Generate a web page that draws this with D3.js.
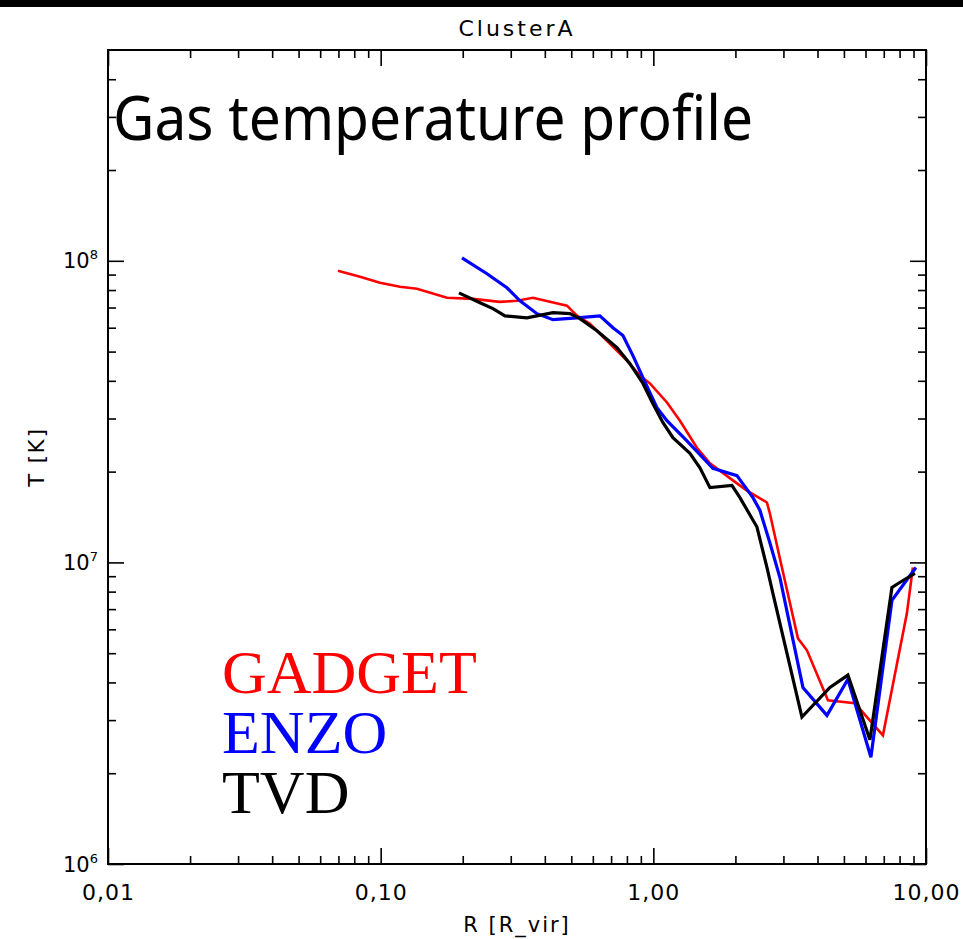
<!DOCTYPE html>
<html>
<head>
<meta charset="utf-8">
<script src="https://cdn.jsdelivr.net/npm/d3@7"></script>
<style>
  html, body { margin: 0; padding: 0; background: #fff; }
  svg { display: block; }
</style>
</head>
<body>
<svg id="chart" width="963" height="939"></svg>
<script>
// Radial gas temperature profile of ClusterA for three codes (R in units of R_vir, T in K)
const gadgetR = [0.0697, 0.084, 0.0994, 0.1177, 0.1358, 0.175, 0.2181, 0.2739, 0.3161, 0.3618, 0.4176, 0.4822, 0.5246, 0.5855, 0.6759, 0.80, 0.893, 0.972, 1.122, 1.252, 1.445, 1.613, 1.958, 2.204, 2.61, 2.677, 2.962, 3.391, 3.659, 4.369, 5.487, 6.95, 8.51, 8.95];
const gadgetT = [9.27e7, 8.85e7, 8.46e7, 8.20e7, 8.08e7, 7.54e7, 7.48e7, 7.31e7, 7.37e7, 7.54e7, 7.31e7, 7.10e7, 6.58e7, 6.18e7, 5.43e7, 4.67e7, 4.16e7, 3.92e7, 3.39e7, 2.95e7, 2.40e7, 2.13e7, 1.87e7, 1.73e7, 1.58e7, 1.45e7, 9.62e6, 5.60e6, 5.11e6, 3.49e6, 3.41e6, 2.67e6, 6.78e6, 9.62e6];

const enzoR = [0.1987, 0.2454, 0.2904, 0.3242, 0.3743, 0.4284, 0.5246, 0.6369, 0.711, 0.7737, 0.8417, 0.916, 1.031, 1.122, 1.328, 1.654, 2.026, 2.319, 2.459, 2.677, 2.912, 3.537, 4.332, 5.171, 6.28, 7.50, 9.18];
const enzoT = [1.023e8, 9.06e7, 8.14e7, 7.37e7, 6.68e7, 6.38e7, 6.47e7, 6.57e7, 6.00e7, 5.65e7, 4.85e7, 4.10e7, 3.26e7, 2.95e7, 2.53e7, 2.05e7, 1.94e7, 1.64e7, 1.49e7, 1.16e7, 8.91e6, 3.85e6, 3.11e6, 4.10e6, 2.26e6, 7.48e6, 9.62e6];

const tvdR = [0.1937, 0.2313, 0.2581, 0.2857, 0.3439, 0.4284, 0.4946, 0.538, 0.621, 0.7356, 0.8208, 0.916, 0.9966, 1.084, 1.18, 1.362, 1.482, 1.613, 1.942, 2.078, 2.399, 2.61, 2.746, 3.507, 4.443, 5.171, 6.228, 7.50, 8.23, 9.11];
const tvdT = [7.83e7, 7.26e7, 6.94e7, 6.57e7, 6.47e7, 6.73e7, 6.68e7, 6.43e7, 5.86e7, 5.15e7, 4.56e7, 3.92e7, 3.36e7, 2.91e7, 2.59e7, 2.30e7, 2.06e7, 1.77e7, 1.80e7, 1.64e7, 1.31e7, 9.62e6, 7.88e6, 3.07e6, 3.85e6, 4.23e6, 2.58e6, 8.26e6, 8.71e6, 9.20e6];

const seriesNames = ["GADGET", "ENZO", "TVD"];
const seriesColors = ["#ff0000", "#0000ff", "#000000"];

const xMajorTicks = [0.01, 0.1, 1, 10];
const xTickLabels = ["0,01", "0,10", "1,00", "10,00"];
const yMajorTicks = [1e6, 1e7, 1e8];
const yTickExponents = ["6", "7", "8"];

const chartTitle = "ClusterA";
const panelTitle = "Gas temperature profile";
const xLabel = "R [R_vir]";
const yLabel = "T [K]";

const svg = d3.select("#chart");
const W = 963, H = 939;
const plot = { left: 108, right: 926, top: 50, bottom: 864 };

// black band along the top edge
svg.append("rect").attr("x", 0).attr("y", 0).attr("width", W).attr("height", 7).attr("fill", "#000");

const x = d3.scaleLog().domain([0.01, 10]).range([plot.left, plot.right]);
const y = d3.scaleLog().domain([1e6, 5e8]).range([plot.bottom, plot.top]);

// every 1..9 multiple of each decade inside the domain
function logTicks(lo, hi) {
  const out = [];
  for (let e = Math.floor(Math.log10(lo)); e <= Math.ceil(Math.log10(hi)); e++) {
    for (let m = 1; m <= 9; m++) {
      const v = m * Math.pow(10, e);
      if (v >= lo * 0.999 && v <= hi * 1.001) out.push(v);
    }
  }
  return out;
}
const isMajor = v => Math.abs(Math.log10(v) - Math.round(Math.log10(v))) < 1e-6;

const xTicks = logTicks(0.01, 10);
const yTicks = logTicks(1e6, 5e8).filter(v => v < 5e8 * 0.999);

const MAJOR = 16, MINOR = 8;
const fontSans = "'DejaVu Sans', 'Liberation Sans', sans-serif";

function styleTicks(g, dir) {
  g.select(".domain").remove();
  g.selectAll(".tick line")
    .attr("stroke", "#000")
    .attr("stroke-width", 1.6)
    .each(function(d) {
      const len = isMajor(d) ? MAJOR : MINOR;
      const sel = d3.select(this);
      if (dir === "up") sel.attr("y2", -len);
      if (dir === "down") sel.attr("y2", len);
      if (dir === "right") sel.attr("x2", len);
      if (dir === "left") sel.attr("x2", -len);
    });
  g.selectAll(".tick text").remove();
}

// bottom axis with labels
const gBottom = svg.append("g").attr("transform", `translate(0,${plot.bottom})`)
  .call(d3.axisBottom(x).tickValues(xTicks).tickSizeOuter(0));
styleTicks(gBottom, "up");
gBottom.selectAll(".tick").filter(d => isMajor(d))
  .append("text")
  .attr("y", 36)
  .attr("text-anchor", "middle")
  .attr("font-family", fontSans)
  .attr("font-size", 22)
  .attr("letter-spacing", 1)
  .attr("fill", "#000")
  .text(d => xTickLabels[xMajorTicks.findIndex(v => Math.abs(v - d) / d < 1e-6)]);

// top axis
const gTop = svg.append("g").attr("transform", `translate(0,${plot.top})`)
  .call(d3.axisTop(x).tickValues(xTicks).tickSizeOuter(0));
styleTicks(gTop, "down");

// left axis with exponent labels
const gLeft = svg.append("g").attr("transform", `translate(${plot.left},0)`)
  .call(d3.axisLeft(y).tickValues(yTicks).tickSizeOuter(0));
styleTicks(gLeft, "right");
gLeft.selectAll(".tick").filter(d => isMajor(d))
  .each(function(d) {
    const i = yMajorTicks.findIndex(v => Math.abs(v - d) / d < 1e-6);
    const t = d3.select(this).append("text")
      .attr("x", -10)
      .attr("y", 7)
      .attr("text-anchor", "end")
      .attr("font-family", fontSans)
      .attr("font-size", 21)
      .attr("fill", "#000");
    t.append("tspan").text("10");
    t.append("tspan").attr("font-size", 13).attr("dy", -9).text(yTickExponents[i]);
  });

// right axis
const gRight = svg.append("g").attr("transform", `translate(${plot.right},0)`)
  .call(d3.axisRight(y).tickValues(yTicks).tickSizeOuter(0));
styleTicks(gRight, "left");

// plot frame
svg.append("rect")
  .attr("x", plot.left).attr("y", plot.top)
  .attr("width", plot.right - plot.left).attr("height", plot.bottom - plot.top)
  .attr("fill", "none").attr("stroke", "#000").attr("stroke-width", 2);

// profiles
const line = d3.line().x(d => x(d[0])).y(d => y(d[1]));
const series = [
  { r: gadgetR, t: gadgetT, w: 2.6 },
  { r: enzoR, t: enzoT, w: 3.2 },
  { r: tvdR, t: tvdT, w: 3.2 }
];
series.forEach((s, i) => {
  svg.append("path")
    .datum(s.r.map((r, k) => [r, s.t[k]]))
    .attr("d", line)
    .attr("fill", "none")
    .attr("stroke", seriesColors[i])
    .attr("stroke-width", s.w)
    .attr("stroke-linejoin", "miter");
});

// titles and axis labels
svg.append("text")
  .attr("x", (plot.left + plot.right) / 2).attr("y", 36)
  .attr("text-anchor", "middle")
  .attr("font-family", fontSans).attr("font-size", 22).attr("letter-spacing", 3)
  .text(chartTitle);

svg.append("text")
  .attr("x", 113).attr("y", 140)
  .attr("font-family", "'Noto Sans', 'Open Sans', sans-serif")
  .attr("font-size", 62)
  .attr("textLength", 640).attr("lengthAdjust", "spacingAndGlyphs")
  .text(panelTitle);

svg.append("text")
  .attr("x", (plot.left + plot.right) / 2).attr("y", 932)
  .attr("text-anchor", "middle")
  .attr("font-family", fontSans).attr("font-size", 21).attr("letter-spacing", 2)
  .text(xLabel);

svg.append("text")
  .attr("transform", `translate(44,${(plot.top + plot.bottom) / 2}) rotate(-90)`)
  .attr("text-anchor", "middle")
  .attr("font-family", fontSans).attr("font-size", 21).attr("letter-spacing", 2)
  .text(yLabel);

// code legend
const legend = svg.append("g");
seriesNames.forEach((name, i) => {
  legend.append("text")
    .attr("x", 222).attr("y", 693 + i * 60)
    .attr("font-family", "'Liberation Serif', 'Times New Roman', serif")
    .attr("font-size", 62)
    .attr("fill", seriesColors[i])
    .text(name);
});
</script>
</body>
</html>
